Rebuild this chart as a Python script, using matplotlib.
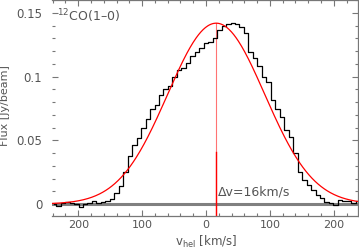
import numpy as np
import matplotlib
matplotlib.use('Agg')
import matplotlib.pyplot as plt
from matplotlib.ticker import MultipleLocator, FixedLocator

# ============================================
# 数据：CO(1-0) 谱线 (通道中心 km/s, 流量 Jy/beam)
# ============================================
velocity = [-238, -231, -224, -217, -210, -203, -196, -189, -182, -175,
            -168, -161, -154, -147, -140, -133, -126, -119, -112, -105,
            -98, -91, -84, -77, -70, -63, -56, -49, -42, -35,
            -28, -21, -14, -7, 0, 7, 14, 21, 28, 35,
            42, 49, 56, 63, 70, 77, 84, 91, 98, 105,
            112, 119, 126, 133, 140, 147, 154, 161, 168, 175,
            182, 189, 196, 203, 210, 217, 224, 231, 238]
flux = [0.000, -0.0015, 0.001, 0.0015, 0.001, 0.000, -0.002, 0.000, 0.001, 0.002,
        0.0005, 0.0015, 0.002, 0.004, 0.009, 0.014, 0.025, 0.038, 0.046, 0.052,
        0.060, 0.067, 0.075, 0.078, 0.086, 0.090, 0.093, 0.100, 0.105, 0.107,
        0.111, 0.116, 0.119, 0.1225, 0.1265, 0.127, 0.130, 0.137, 0.140, 0.1414,
        0.142, 0.1415, 0.139, 0.134, 0.119, 0.115, 0.108, 0.100, 0.096, 0.082,
        0.075, 0.068, 0.058, 0.053, 0.040, 0.025, 0.019, 0.015, 0.011, 0.007,
        0.0047, 0.0016, 0.0008, -0.0008, 0.003, 0.0024, 0.002, 0.0008, 0.002]

# 高斯拟合参数
fit_amp = 0.142
fit_center = 16.0
fit_sigma = 76.0

x_ticks = [-200, -100, 0, 100, 200]
x_ticklabels = ['200', '100', '0', '100', '200']
y_ticks = [0, 0.05, 0.1, 0.15]
y_ticklabels = ['0', '0.05', '0.1', '0.15']

txt_color = '#555555'
spine_color = '#777777'

fig = plt.figure(figsize=(3.59, 2.49), dpi=100)
ax = fig.add_axes([52 / 359, 1 - 216 / 249, 306 / 359, 216 / 249])

xlo, xhi = -241, 238
ylo, yhi = -0.0094, 0.1602

# 零线
ax.axhline(0, color='#808080', linewidth=2.2, zorder=1)

# 谱线（阶梯）
ax.step(velocity, flux, where='mid', color='black', linewidth=0.9, zorder=3)

# 高斯拟合
vv = np.linspace(xlo, xhi, 400)
gauss = fit_amp * np.exp(-(vv - fit_center) ** 2 / (2 * fit_sigma ** 2))
ax.plot(vv, gauss, color='red', linewidth=0.9, zorder=4)

# 中心速度线
ax.plot([fit_center, fit_center], [ylo, fit_amp], color='red', linewidth=0.8, alpha=0.55, zorder=2)
ax.plot([fit_center, fit_center], [ylo, 0.041], color='red', linewidth=1.0, zorder=2)

ax.set_xlim(xlo, xhi)
ax.set_ylim(ylo, yhi)

ax.xaxis.set_major_locator(FixedLocator(x_ticks))
ax.set_xticklabels(x_ticklabels)
ax.xaxis.set_minor_locator(MultipleLocator(20))
ax.yaxis.set_major_locator(FixedLocator(y_ticks))
ax.set_yticklabels(y_ticklabels)
ax.yaxis.set_minor_locator(MultipleLocator(0.01))

ax.tick_params(which='both', direction='in', top=True, right=True,
               colors=spine_color, labelcolor=txt_color, labelsize=8.5, width=0.8)
ax.tick_params(which='major', length=4)
ax.tick_params(axis='x', which='major', pad=3, labelsize=8)
ax.tick_params(axis='y', which='major', pad=7)
ax.tick_params(which='minor', length=2.5)
for side in ['top', 'bottom', 'right']:
    ax.spines[side].set_color(spine_color)
    ax.spines[side].set_linewidth(0.9)
ax.spines['left'].set_visible(False)

# 文字
ax.text(-241 + (57 - 52) / 0.64, 0.1475, r'$^{12}$CO(1–0)',
        fontsize=9, color=txt_color, va='center', ha='left')
ax.text(fit_center + 2, 0.0095, 'Δv=16km/s', fontsize=9, color=txt_color,
        va='center', ha='left')

fig.text(206 / 359, 1 - 242 / 249, r'v$_{\rm hel}$ [km/s]', fontsize=8.5,
         color=txt_color, ha='center', va='center')
fig.text(5 / 359, 1 - 106 / 249, 'Flux [Jy/beam]', fontsize=8, color=txt_color,
         rotation=90, ha='center', va='center')

plt.savefig('out.png', dpi=100)
